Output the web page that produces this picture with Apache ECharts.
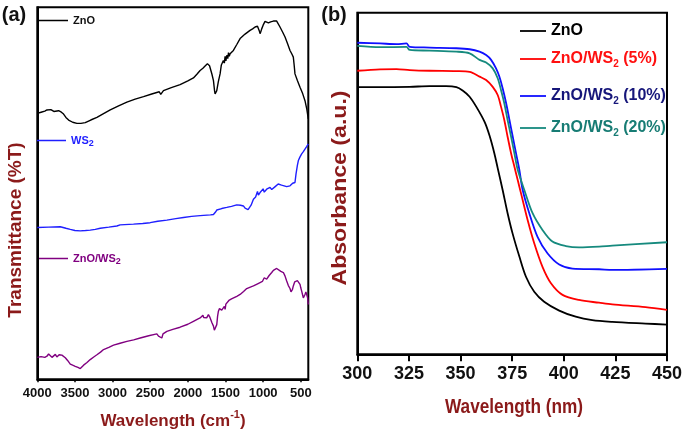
<!DOCTYPE html>
<html><head><meta charset="utf-8">
<script src="https://cdn.jsdelivr.net/npm/echarts@6/dist/echarts.min.js"></script>
<style>html,body{margin:0;padding:0;background:#fff}#c{width:685px;height:435px}</style>
</head><body><div id="c"></div>
<script>
// ---------- Panel (a): FTIR, [wavenumber cm-1, transmittance (arb. %)] ----------
const ftirTicks = [4000, 3500, 3000, 2500, 2000, 1500, 1000, 500];
const ftirZnO = [[4000,71.5],[3950,71.8],[3900,72.1],[3872,72.4],[3850,71.9],[3820,72.5],[3780,72.0],[3717,72.2],[3680,71.8],[3651,71.3],[3620,70.4],[3584,69.7],[3530,69.1],[3474,68.8],[3420,68.8],[3363,69.0],[3290,69.7],[3208,70.4],[3120,71.4],[3031,72.4],[2920,73.5],[2810,74.5],[2700,75.3],[2589,76.0],[2480,76.7],[2380,77.3],[2360,76.6],[2346,76.8],[2324,77.6],[2220,78.4],[2103,79.2],[2000,80.2],[1926,81.0],[1880,82.0],[1837,83.0],[1815,82.6],[1800,83.6],[1790,83.2],[1771,84.2],[1755,83.7],[1740,84.8],[1727,84.8],[1712,84.3],[1696,83.9],[1680,82.0],[1660,80.3],[1645,77.5],[1638,76.7],[1625,77.2],[1616,77.6],[1595,80.0],[1572,82.1],[1555,84.5],[1540,85.0],[1528,85.7],[1515,85.0],[1505,86.8],[1495,85.6],[1483,87.1],[1470,86.2],[1460,87.8],[1450,86.8],[1439,87.5],[1420,88.0],[1395,88.4],[1350,90.0],[1306,91.6],[1240,92.8],[1174,93.8],[1140,94.2],[1107,94.7],[1075,94.9],[1063,94.9],[1048,93.5],[1041,92.9],[1030,93.5],[1019,94.2],[1000,95.2],[975,96.2],[950,96.0],[930,95.8],[900,96.1],[864,96.3],[820,96.3],[800,95.8],[776,94.7],[740,93.3],[709,92.0],[675,90.2],[643,88.4],[620,87.5],[599,86.6],[588,84.5],[577,82.1],[545,80.3],[510,78.5],[475,76.8],[444,74.9],[420,72.6],[400,70.0]];
const ftirWS2 = [[4000,40.8],[3850,40.9],[3695,41.0],[3620,40.6],[3562,40.3],[3500,40.0],[3429,39.9],[3360,40.0],[3297,40.1],[3230,40.3],[3164,40.6],[3050,40.9],[2943,41.2],[2900,41.5],[2880,41.3],[2722,41.7],[2600,41.9],[2501,42.1],[2400,42.5],[2279,42.8],[2160,43.2],[2058,43.5],[1950,43.8],[1837,44.0],[1700,44.2],[1660,44.3],[1635,44.9],[1616,45.5],[1550,45.9],[1483,46.2],[1420,46.5],[1351,46.9],[1300,46.8],[1262,46.6],[1240,46.0],[1218,45.5],[1200,45.6],[1183,45.7],[1160,46.8],[1129,48.4],[1100,49.0],[1085,49.3],[1075,50.5],[1063,49.5],[1041,50.2],[1020,50.0],[1000,51.2],[985,50.3],[953,51.1],[930,51.4],[908,51.6],[886,51.0],[864,50.9],[840,51.8],[820,52.3],[800,52.5],[776,52.7],[755,52.2],[731,52.0],[687,51.8],[643,52.0],[620,52.4],[608,52.7],[577,52.9],[563,55.2],[545,57.5],[532,58.8],[510,59.8],[488,60.6],[466,61.2],[444,61.9],[420,62.6],[400,63.3]];
const ftirComposite = [[4000,5.9],[3950,6.1],[3900,5.9],[3872,6.2],[3850,6.8],[3828,6.6],[3805,5.9],[3783,6.2],[3760,6.7],[3740,6.0],[3710,6.6],[3673,6.5],[3628,5.8],[3595,5.0],[3562,4.1],[3530,3.8],[3496,3.5],[3460,3.2],[3440,2.8],[3429,2.9],[3410,3.4],[3385,3.8],[3340,4.5],[3297,5.3],[3250,6.0],[3208,6.6],[3160,7.3],[3120,8.0],[3050,8.6],[2987,9.2],[2900,9.7],[2810,10.2],[2720,10.6],[2633,11.1],[2520,11.7],[2412,12.2],[2390,11.6],[2368,11.2],[2346,11.1],[2330,12.2],[2279,12.9],[2200,13.4],[2103,14.0],[2000,14.8],[1926,15.6],[1870,16.2],[1837,16.5],[1815,16.3],[1800,17.2],[1790,16.6],[1771,17.0],[1750,16.5],[1727,17.4],[1710,16.8],[1696,16.4],[1680,15.2],[1660,14.3],[1648,13.2],[1638,12.9],[1625,13.6],[1616,14.7],[1605,17.0],[1594,18.3],[1580,19.0],[1563,19.2],[1550,18.6],[1540,18.4],[1528,18.3],[1515,19.6],[1505,18.8],[1495,20.2],[1483,20.1],[1470,19.7],[1455,21.2],[1439,21.0],[1420,21.6],[1395,21.9],[1350,22.3],[1306,22.8],[1260,23.6],[1218,24.4],[1170,24.8],[1129,25.1],[1080,25.6],[1041,26.0],[1010,26.3],[997,26.6],[985,27.3],[975,27.5],[965,26.8],[953,26.9],[920,27.9],[886,28.7],[864,29.3],[842,29.7],[820,29.8],[798,29.6],[765,29.0],[731,28.7],[710,27.8],[687,26.4],[665,25.2],[643,24.4],[630,23.5],[621,23.3],[610,24.2],[599,25.1],[580,26.2],[563,26.6],[545,26.5],[532,26.4],[520,26.0],[510,25.5],[500,24.6],[488,23.7],[477,22.8],[466,21.9],[455,22.4],[444,22.8],[432,23.5],[422,23.7],[410,22.0],[400,20.1]];

// ---------- Panel (b): UV-vis, [wavelength nm, absorbance (a.u.)] ----------
const uvZnO = [[300,78.2],[311,78.2],[325.4,78.3],[335,78.5],[343,78.5],[348,78.2],[351,77.2],[354.4,75.4],[357.6,72.5],[361.6,68.1],[364,64.1],[366.4,58.8],[368,54.5],[370.4,48.1],[372.8,41.3],[375.2,35.4],[378.5,28.6],[381.7,22.7],[385.7,18.3],[390.5,15.4],[397.8,12.8],[405.8,11.0],[413.8,10.0],[423.5,9.5],[439.6,9.0],[450,8.7]];
const uvW5 = [[300,83.0],[311,83.4],[319,83.5],[325.4,83.2],[335,83.0],[348,82.9],[354.4,82.7],[359.2,81.3],[362.4,80.3],[365.6,78.3],[368,75.9],[369.6,72.5],[371.2,68.6],[372.8,63.7],[374.5,58.8],[376.1,54.9],[377.7,51.0],[379.3,47.1],[382.5,39.3],[385.7,32.5],[389.7,25.6],[393.8,20.8],[399.4,17.4],[407.4,15.9],[417.1,15.1],[423.5,14.6],[439.6,13.8],[450,13.0]];
const uvW10 = [[300,91.2],[311,91.0],[319,90.8],[323.8,91.0],[325.4,90.0],[335,89.8],[348,89.6],[354.4,89.3],[359.2,88.6],[362.4,87.6],[364.8,86.2],[367.2,83.7],[368.8,81.3],[370.4,77.9],[372.1,73.5],[373.7,68.6],[375.3,63.7],[376.9,58.8],[378.5,54.0],[380.1,48.1],[383.3,41.3],[387.3,34.4],[392.1,29.6],[397.8,26.3],[404.2,25.1],[417.1,24.9],[423.5,24.7],[450,25.0]];
const uvW20 = [[300,90.3],[311,89.9],[323.8,90.0],[325.4,89.1],[335,88.9],[348,88.6],[354.4,88.1],[359.2,86.2],[362.4,85.4],[365.6,83.7],[368,80.8],[369.6,77.4],[371.2,73.5],[372.8,68.6],[374.5,63.7],[376.1,58.8],[377.7,54.0],[380.9,48.1],[384.9,41.3],[389.7,36.4],[394.5,33.0],[401,31.7],[407.4,31.3],[417.1,31.5],[423.5,31.8],[450,32.8]];

const DARKRED = '#8b1a1a';
const ARIAL = "'Liberation Sans', Arial, sans-serif";

function legA(name, label, sub, color, left, top) {
  return {
    data: [name], left: left, top: top, orient: 'vertical', padding: 0,
    icon: 'rect', itemWidth: 29, itemHeight: 1.5,
    formatter: () => sub ? '{m|' + label + '}{s|2}' : '{m|' + label + '}',
    textStyle: { rich: {
      m: { fontFamily: ARIAL, fontWeight: 'bold', fontSize: 11, color: color },
      s: { fontFamily: ARIAL, fontWeight: 'bold', fontSize: 9, color: color, padding: [7, 0, 0, 0] }
    } }
  };
}
function legB(name, pre, post, color, lineColor, top) {
  return {
    data: [name], left: 520, top: top, orient: 'vertical', padding: 0,
    icon: 'rect', itemWidth: 26, itemHeight: 1.8,
    itemStyle: { color: lineColor },
    formatter: () => post === null ? '{m|' + pre + '}' : '{m|' + pre + '}{s|2}{m|' + post + '}',
    textStyle: { rich: {
      m: { fontFamily: ARIAL, fontWeight: 'bold', fontSize: 16, color: color },
      s: { fontFamily: ARIAL, fontWeight: 'bold', fontSize: 10, color: color, padding: [11, 0, 0, 0] }
    } }
  };
}

const chart = echarts.init(document.getElementById('c'), null, { renderer: 'canvas' });
const lineA = (name, data, color) => ({
  name, type: 'line', xAxisIndex: 0, yAxisIndex: 0, data, symbol: 'none', showSymbol: false,
  lineStyle: { color, width: 1.4 }, itemStyle: { color }, silent: true
});
const lineB = (name, data, color) => ({
  name, type: 'line', xAxisIndex: 1, yAxisIndex: 1, data, symbol: 'none', showSymbol: false,
  smooth: 0.3,
  lineStyle: { color, width: 1.8 }, itemStyle: { color }, silent: true
});

chart.setOption({
  animation: false,
  backgroundColor: '#fff',
  grid: [
    { left: 37.3, top: 7.3, width: 271, height: 372, show: true, borderColor: '#000', borderWidth: 2, containLabel: false },
    { left: 357.3, top: 12.7, width: 311, height: 341.6, show: true, borderColor: '#000', borderWidth: 2, containLabel: false }
  ],
  xAxis: [
    { gridIndex: 0, type: 'value', inverse: true, min: 400, max: 4000,
      axisLine: { show: true, lineStyle: { color: '#000', width: 2 } },
      axisTick: { show: true, inside: false, length: 3, customValues: ftirTicks, lineStyle: { color: '#000', width: 1.5 } },
      axisLabel: { customValues: ftirTicks, formatter: v => String(v), margin: 8, color: '#111', fontFamily: ARIAL, fontWeight: 'bold', fontSize: 13 },
      splitLine: { show: false } },
    { gridIndex: 1, type: 'value', min: 300, max: 450, interval: 25,
      axisLine: { show: true, lineStyle: { color: '#000', width: 2 } },
      axisTick: { show: true, inside: false, length: 7, lineStyle: { color: '#000', width: 2 } },
      axisLabel: { formatter: v => String(v), margin: 11, color: '#111', fontFamily: ARIAL, fontWeight: 'bold', fontSize: 18 },
      splitLine: { show: false } }
  ],
  yAxis: [
    { gridIndex: 0, type: 'value', min: 0, max: 100,
      axisLine: { show: true, lineStyle: { color: '#000', width: 2 } },
      axisTick: { show: false }, axisLabel: { show: false }, splitLine: { show: false } },
    { gridIndex: 1, type: 'value', min: 0, max: 100,
      axisLine: { show: true, lineStyle: { color: '#000', width: 2 } },
      axisTick: { show: false }, axisLabel: { show: false }, splitLine: { show: false } }
  ],
  legend: [
    legA('ZnO (FTIR)', 'ZnO', false, '#111', 39, 15),
    legA('WS2 (FTIR)', 'WS', true, '#1f1fff', 37, 135),
    legA('ZnO/WS2 (FTIR)', 'ZnO/WS', true, '#800080', 39, 253),
    legB('ZnO', 'ZnO', null, '#000', '#000', 23),
    legB('ZnO/WS2 (5%)', 'ZnO/WS', ' (5%)', '#ff1010', '#ff0000', 51),
    legB('ZnO/WS2 (10%)', 'ZnO/WS', ' (10%)', '#16167a', '#1010ff', 88),
    legB('ZnO/WS2 (20%)', 'ZnO/WS', ' (20%)', '#177c74', '#168a7e', 120)
  ],
  series: [
    lineA('ZnO (FTIR)', ftirZnO, '#000'),
    lineA('WS2 (FTIR)', ftirWS2, '#1f1fff'),
    lineA('ZnO/WS2 (FTIR)', ftirComposite, '#800080'),
    lineB('ZnO', uvZnO, '#000'),
    lineB('ZnO/WS2 (5%)', uvW5, '#ff0000'),
    lineB('ZnO/WS2 (10%)', uvW10, '#1010ff'),
    lineB('ZnO/WS2 (20%)', uvW20, '#168a7e')
  ],
  graphic: [
    { type: 'text', x: 14, y: 15, style: { text: '(a)', font: 'bold 20px ' + ARIAL, fill: '#111', align: 'center', verticalAlign: 'middle' } },
    { type: 'text', x: 334, y: 15, style: { text: '(b)', font: 'bold 20px ' + ARIAL, fill: '#111', align: 'center', verticalAlign: 'middle' } },
    { type: 'text', x: 16, y: 230, rotation: Math.PI / 2, style: { text: 'Transmittance (%T)', font: 'bold 19px ' + ARIAL, fill: DARKRED, align: 'center', verticalAlign: 'middle' } },
    { type: 'text', x: 340, y: 188, rotation: Math.PI / 2, scaleX: 1.1, style: { text: 'Absorbance (a.u.)', font: 'bold 21px ' + ARIAL, fill: DARKRED, align: 'center', verticalAlign: 'middle' } },
    { type: 'text', x: 173, y: 421, style: {
        text: '{m|Wavelength (cm}{s|-1}{m|)}', align: 'center', verticalAlign: 'middle',
        rich: { m: { font: 'bold 17px ' + ARIAL, fill: DARKRED, color: DARKRED },
                s: { font: 'bold 11px ' + ARIAL, fill: DARKRED, color: DARKRED, padding: [0, 0, 12, 0] } } } },
    { type: 'text', x: 514, y: 407, scaleX: 0.82, style: { text: 'Wavelength (nm)', font: 'bold 21px ' + ARIAL, fill: DARKRED, align: 'center', verticalAlign: 'middle' } }
  ]
});
</script></body></html>
